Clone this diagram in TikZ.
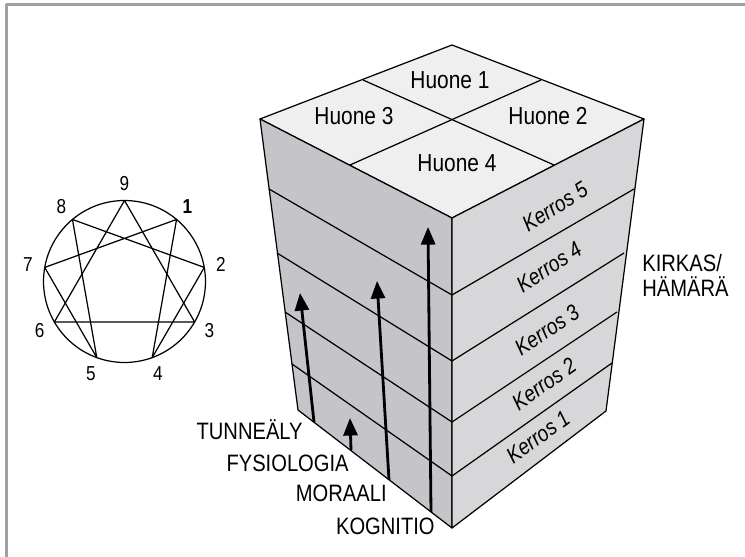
\documentclass[tikz,border=0pt]{standalone}
\usepackage{fontspec}
\setmainfont{Liberation Sans}[FakeStretch=0.85]
\usetikzlibrary{arrows.meta,calc}

\definecolor{kehys}{HTML}{A0A0A4}
\definecolor{katto}{HTML}{EFEFF0}
\definecolor{vasen}{HTML}{C5C5C9}
\definecolor{oikea}{HTML}{D7D7D9}

\begin{document}
\begin{tikzpicture}[x=0.02cm, y=-0.02cm, line join=round,
  reuna/.style={line width=0.7pt},
  huone/.style={font=\fontsize{14}{16}\selectfont, inner sep=0pt, anchor=base},
  kerros/.style={font=\fontsize{12.8}{14}\selectfont\itshape, inner sep=0pt},
  taso/.style={font=\fontsize{13.5}{15}\selectfont, inner sep=0pt, anchor=base east},
  nousu/.style={line width=1.6pt, -{Triangle[length=10pt,width=8pt]}},
  luku/.style={font=\fontsize{11.5}{12}\selectfont, inner sep=0pt}]
  \useasboundingbox (0,0) rectangle (745,557);
  \draw[kehys, line width=1.5pt] (6.5,557) -- (6.5,4.5) -- (745,4.5);

  % enneagram
  \coordinate (e) at (124.5,281.5);
  \draw[reuna] (e) circle (1.62cm);
  \foreach \k in {1,...,9} { \coordinate (p\k) at ($(e)+(40*\k-90:81)$); }
  \draw[reuna] (p9) -- (p3) -- (p6) -- cycle;
  \draw[reuna] (p1) -- (p4) -- (p2) -- (p8) -- (p5) -- (p7) -- cycle;
  \foreach \k in {2,...,9} { \node[luku] (n\k) at ($(e)+(40*\k-90:98)$) {\k}; }
  \node[luku, font=\fontsize{11.5}{12}\selectfont\bfseries] (n1) at ($(e)+(-50:98)$) {1};

  % talon kulmat
  \coordinate (tt) at (452,45);
  \coordinate (tl) at (260,119);
  \coordinate (tr) at (644,119);
  \coordinate (tf) at (452,218);
  \coordinate (bl) at (298,410);
  \coordinate (br) at (606,411);
  \coordinate (bf) at (452,528);
  \filldraw[fill=katto, reuna] (tt) -- (tr) -- (tf) -- (tl) -- cycle;
  \filldraw[fill=vasen, reuna] (tl) -- (tf) -- (bf) -- (bl) -- cycle;
  \filldraw[fill=oikea, reuna] (tf) -- (tr) -- (br) -- (bf) -- cycle;
  \draw[reuna] (363,80) -- (554,165);
  \draw[reuna] (541,80) -- (350,165);
  \foreach \yf/\lx/\ly/\rx/\ry in {295/269/189/634/189, 361/277/253/624/253,
      422/285/312/617/312, 476/292/364/612/363}
    { \draw[reuna] (\lx,\ly) -- (452,\yf) -- (\rx,\ry); }

  \node[huone] (h1) at (450,89) {Huone 1};
  \node[huone] (h2) at (548,125) {Huone 2};
  \node[huone] (h3) at (354,125) {Huone 3};
  \node[huone] (h4) at (457,172) {Huone 4};

  \foreach \n/\x/\y/\r in {5/555/207/32, 4/549/267/33, 3/547/330/34,
      2/544/384/35, 1/538/437/36}
    { \node[kerros, rotate=\r] (k\n) at (\x,\y) {Kerros \n}; }

  % nuolet
  \coordinate (t0) at (314,422);  \coordinate (t1) at (300,293);
  \coordinate (f0) at (351,450);  \coordinate (f1) at (350,418);
  \coordinate (m0) at (389,480);  \coordinate (m1) at (377,281);
  \coordinate (c0) at (431,512);  \coordinate (c1) at (428,227);
  \draw[nousu] (t0) -- (t1);
  \draw[nousu] (f0) -- (f1);
  \draw[nousu] (m0) -- (m1);
  \draw[nousu] (c0) -- (c1);

  \node[taso] (tunne) at (303,440) {TUNNEÄLY};
  \node[taso] (fysio) at (349,472) {FYSIOLOGIA};
  \node[taso] (moraali) at (387,502) {MORAALI};
  \node[taso] (kogn) at (435,535) {KOGNITIO};
  \node[taso, anchor=base west] (kirkas) at (642,272) {KIRKAS/};
  \node[taso, anchor=base west] (hamara) at (642,297) {HÄMÄRÄ};
\end{tikzpicture}
\end{document}
